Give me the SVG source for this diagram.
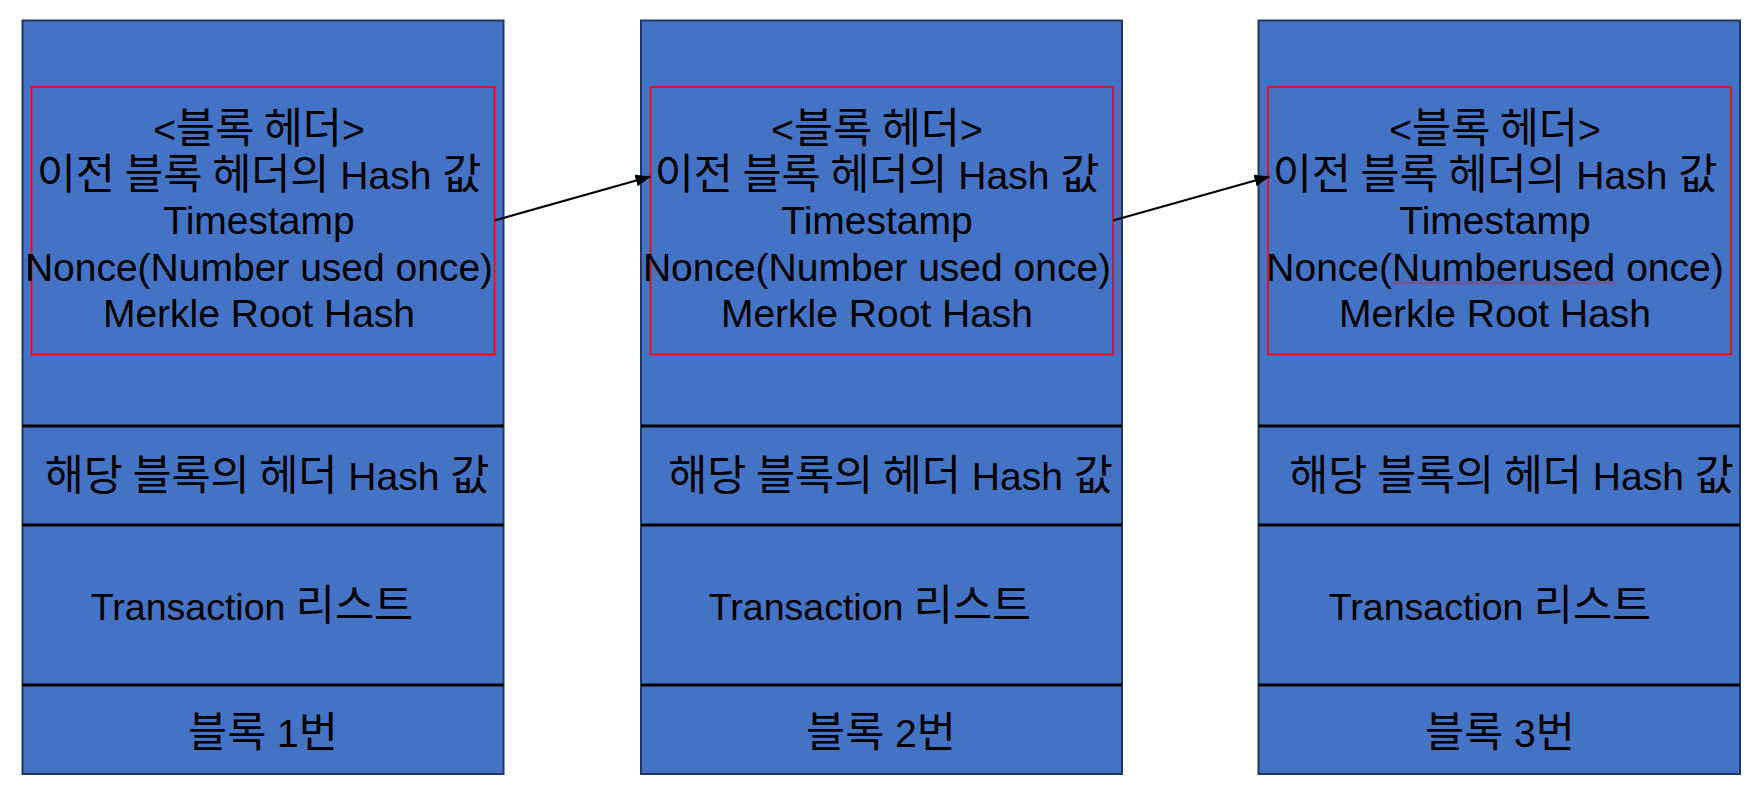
<svg xmlns="http://www.w3.org/2000/svg" width="1756" height="805" viewBox="0 0 1756 805">
  <style>
    .block { fill: #4472C4; stroke: #1F3864; stroke-width: 2; }
    .div { stroke: #000000; stroke-width: 2.8; }
    .hdr { fill: none; stroke: #FF0000; stroke-width: 1.6; }
    .t { font-family: "Liberation Sans", "Noto Sans CJK KR", sans-serif; font-size: 39px; fill: #000000; text-anchor: middle; }
    .k { font-family: "Noto Sans CJK KR", "Liberation Sans", sans-serif; font-size: 42.5px; }
    .tx { font-size: 37.5px; }
    .conn { stroke: #000000; stroke-width: 2.2; fill: none; }
  </style>
  <defs>
    <marker id="arrow" markerUnits="userSpaceOnUse" viewBox="0 0 15 12" refX="15" refY="6" markerWidth="15" markerHeight="12" orient="auto">
      <path d="M0,0 L15,6 L0,12 z" fill="#000000"/>
    </marker>
    <pattern id="squiggle" patternUnits="userSpaceOnUse" x="0" y="281.5" width="4" height="3">
      <polyline points="0,2.5 2,0.5 4,2.5" fill="none" stroke="#FF0000" stroke-width="0.8"/>
    </pattern>
  </defs>
  <rect width="1756" height="805" fill="#FFFFFF"/>

  <g id="block1">
    <rect class="block" x="22.5" y="20.5" width="481" height="753.5"/>
    <line class="div" x1="22.5" y1="426" x2="503.5" y2="426"/>
    <line class="div" x1="22.5" y1="525" x2="503.5" y2="525"/>
    <line class="div" x1="22.5" y1="685" x2="503.5" y2="685"/>
    <rect class="hdr" x="31.5" y="87" width="463" height="267.5"/>
    <text class="t" x="259" y="142.5">&lt;<tspan class="k">블록 헤더</tspan>&gt;</text>
    <text class="t" x="259" y="188.5"><tspan class="k">이전 블록 헤더의</tspan> Hash <tspan class="k">값</tspan></text>
    <text class="t" x="259" y="234">Timestamp</text>
    <text class="t" x="259" y="280.5">Nonce(Number used once)</text>
    <text class="t" x="259" y="327">Merkle Root Hash</text>
    <text class="t" x="267" y="490"><tspan class="k">해당 블록의 헤더</tspan> Hash <tspan class="k">값</tspan></text>
    <text class="t" x="252" y="620"><tspan class="tx">Transaction </tspan><tspan class="k">리스트</tspan></text>
    <text class="t" x="263" y="747"><tspan class="k">블록</tspan> 1<tspan class="k">번</tspan></text>
  </g>

  <g id="block2">
    <rect class="block" x="641" y="20.5" width="481" height="753.5"/>
    <line class="div" x1="641" y1="426" x2="1122" y2="426"/>
    <line class="div" x1="641" y1="525" x2="1122" y2="525"/>
    <line class="div" x1="641" y1="685" x2="1122" y2="685"/>
    <rect class="hdr" x="650.5" y="87" width="462.5" height="267.5"/>
    <text class="t" x="877" y="142.5">&lt;<tspan class="k">블록 헤더</tspan>&gt;</text>
    <text class="t" x="877" y="188.5"><tspan class="k">이전 블록 헤더의</tspan> Hash <tspan class="k">값</tspan></text>
    <text class="t" x="877" y="234">Timestamp</text>
    <text class="t" x="877" y="280.5">Nonce(Number used once)</text>
    <text class="t" x="877" y="327">Merkle Root Hash</text>
    <text class="t" x="890.5" y="490"><tspan class="k">해당 블록의 헤더</tspan> Hash <tspan class="k">값</tspan></text>
    <text class="t" x="870" y="620"><tspan class="tx">Transaction </tspan><tspan class="k">리스트</tspan></text>
    <text class="t" x="881" y="747"><tspan class="k">블록</tspan> 2<tspan class="k">번</tspan></text>
  </g>

  <g id="block3">
    <rect class="block" x="1258.5" y="20.5" width="481.5" height="753.5"/>
    <line class="div" x1="1258.5" y1="426" x2="1740" y2="426"/>
    <line class="div" x1="1258.5" y1="525" x2="1740" y2="525"/>
    <line class="div" x1="1258.5" y1="685" x2="1740" y2="685"/>
    <rect class="hdr" x="1268" y="87" width="463" height="267.5"/>
    <text class="t" x="1495" y="142.5">&lt;<tspan class="k">블록 헤더</tspan>&gt;</text>
    <text class="t" x="1495" y="188.5"><tspan class="k">이전 블록 헤더의</tspan> Hash <tspan class="k">값</tspan></text>
    <text class="t" x="1495" y="234">Timestamp</text>
    <text class="t" x="1495" y="280.5">Nonce(Numberused once)</text>
    <rect x="1391" y="281.5" width="226" height="3" fill="url(#squiggle)"/>
    <text class="t" x="1495" y="327">Merkle Root Hash</text>
    <text class="t" x="1511.5" y="490"><tspan class="k">해당 블록의 헤더</tspan> Hash <tspan class="k">값</tspan></text>
    <text class="t" x="1490" y="620"><tspan class="tx">Transaction </tspan><tspan class="k">리스트</tspan></text>
    <text class="t" x="1500" y="747"><tspan class="k">블록</tspan> 3<tspan class="k">번</tspan></text>
  </g>

  <g id="connectors">
    <line class="conn" x1="494.5" y1="220.5" x2="650.5" y2="176.5" marker-end="url(#arrow)"/>
    <line class="conn" x1="1113" y1="220.5" x2="1269.5" y2="176.5" marker-end="url(#arrow)"/>
  </g>
</svg>
